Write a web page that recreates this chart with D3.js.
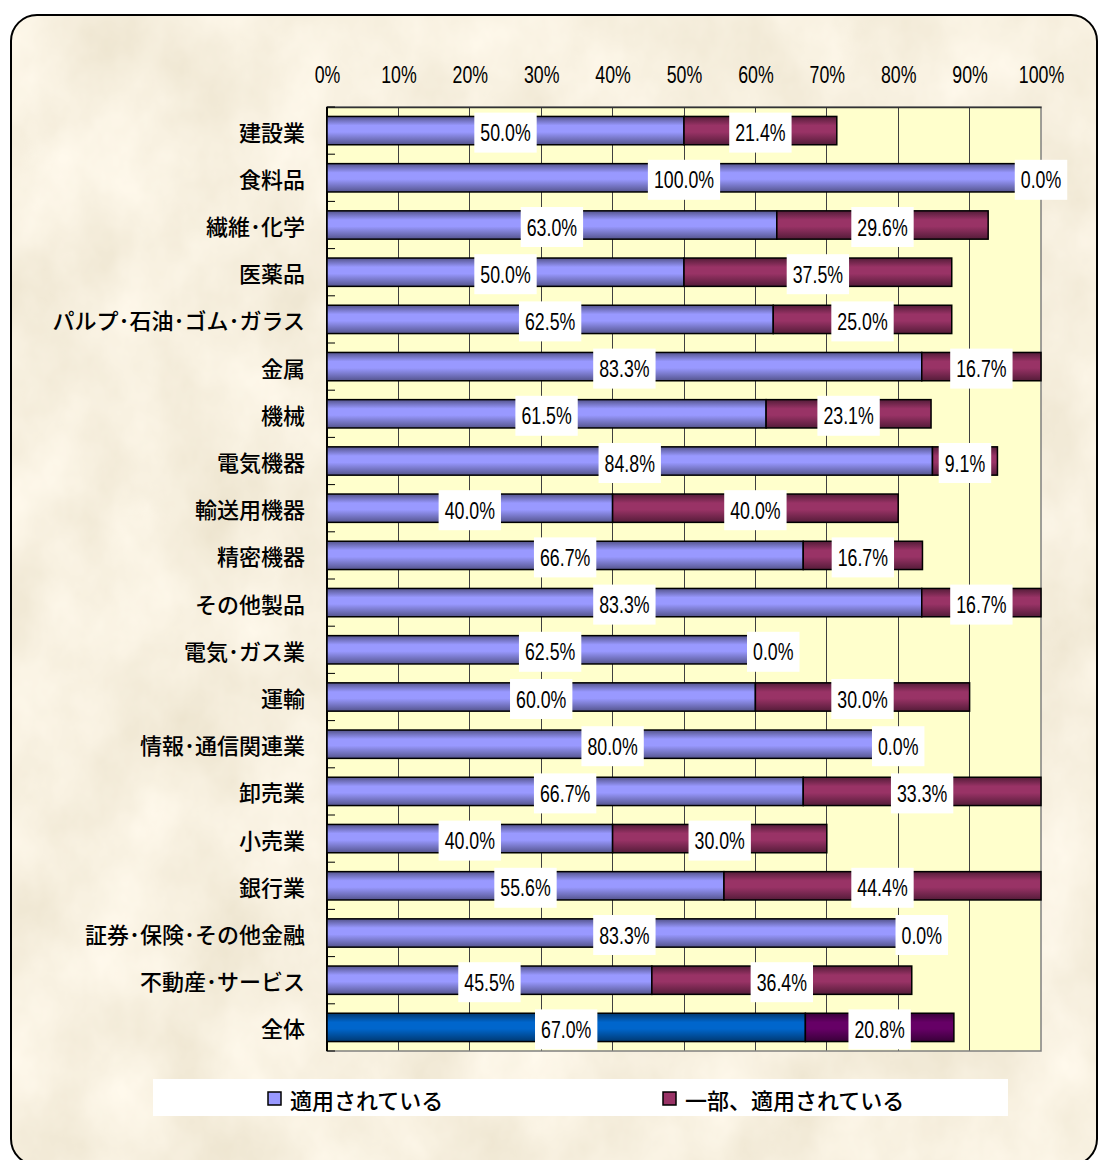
<!DOCTYPE html>
<html><head><meta charset="utf-8">
<script src="https://cdn.jsdelivr.net/npm/d3@7"></script>
<style>
body{margin:0;background:#fff;}
svg{display:block;}
.num{font-family:"Liberation Sans",Arial,sans-serif;}
.jp{font-family:"Noto Sans CJK JP","Noto Sans",sans-serif;font-weight:500;}
</style>
</head><body>
<svg id="c" width="1098" height="1160"></svg>
<script>
const categories = ["建設業","食料品","繊維･化学","医薬品","パルプ･石油･ゴム･ガラス","金属","機械","電気機器","輸送用機器","精密機器","その他製品","電気･ガス業","運輸","情報･通信関連業","卸売業","小売業","銀行業","証券･保険･その他金融","不動産･サービス","全体"];
const applied = [50.0,100.0,63.0,50.0,62.5,83.3,61.5,84.8,40.0,66.7,83.3,62.5,60.0,80.0,66.7,40.0,55.6,83.3,45.5,67.0];
const partial = [21.4,0.0,29.6,37.5,25.0,16.7,23.1,9.1,40.0,16.7,16.7,0.0,30.0,0.0,33.3,30.0,44.4,0.0,36.4,20.8];
const xTicks = [0,10,20,30,40,50,60,70,80,90,100];
const seriesNames = ["適用されている","一部、適用されている"];

const SX = 0.74; // horizontal condensing of numeric text
const NF = 24;   // numeric font size
const svg = d3.select("#c");
const defs = svg.append("defs");

// parchment background
const f = defs.append("filter").attr("id","paper").attr("x",0).attr("y",0).attr("width",1).attr("height",1);
f.append("feTurbulence").attr("type","fractalNoise").attr("baseFrequency","0.012 0.009").attr("numOctaves",5).attr("seed",11);
f.append("feColorMatrix").attr("type","matrix").attr("values",
  "0.2 0 0 0 0.83  0.22 0 0 0 0.76  0.28 0 0 0 0.60  0 0 0 0 1");
defs.append("clipPath").attr("id","frameClip").append("rect")
  .attr("x",11).attr("y",15).attr("width",1086).attr("height",1150).attr("rx",26);
svg.append("rect").attr("x",11).attr("y",15).attr("width",1086).attr("height",1150)
  .attr("clip-path","url(#frameClip)").attr("fill","#EEDEBE").attr("filter","url(#paper)");
svg.append("rect").attr("x",11).attr("y",15).attr("width",1086).attr("height",1150).attr("rx",26)
  .attr("fill","none").attr("stroke","#000").attr("stroke-width",2);

const L = 327, R = 1041, T = 107, B = 1051;
const x = d3.scaleLinear().domain([0,100]).range([L,R]);
const y = d3.scaleBand().domain(categories).range([T,B]).paddingInner(0.4).paddingOuter(0.2);

function grad(id, c){
  const g = defs.append("linearGradient").attr("id",id).attr("x1",0).attr("y1",0).attr("x2",0).attr("y2",1);
  const dk = d3.color(c).darker(1.7).formatHex();
  const dk2 = d3.color(c).darker(1.1).formatHex();
  g.append("stop").attr("offset","0").attr("stop-color",dk);
  g.append("stop").attr("offset","0.32").attr("stop-color",c);
  g.append("stop").attr("offset","0.55").attr("stop-color",c);
  g.append("stop").attr("offset","0.88").attr("stop-color",dk2);
  g.append("stop").attr("offset","1").attr("stop-color",dk);
}
const colA = "#9999FF", colP = "#993366", colAT = "#0066CC", colPT = "#660066";
grad("gA",colA); grad("gP",colP); grad("gAT",colAT); grad("gPT",colPT);

// plot area
svg.append("rect").attr("x",L).attr("y",T).attr("width",R-L).attr("height",B-T).attr("fill","#FFFFCC");
svg.append("g").selectAll("line").data(xTicks.slice(1,-1)).join("line")
  .attr("x1",d=>x(d)).attr("x2",d=>x(d)).attr("y1",T).attr("y2",B)
  .attr("stroke","#404040").attr("stroke-width",1).attr("shape-rendering","crispEdges");
svg.append("rect").attr("x",L).attr("y",T).attr("width",R-L).attr("height",B-T)
  .attr("fill","none").attr("stroke","#808080").attr("stroke-width",1.5);

// x axis on top
const xAxis = d3.axisTop(x).tickValues(xTicks).tickFormat(d=>d+"%").tickSize(0).tickPadding(0);
const gx = svg.append("g").attr("transform",`translate(0,${T})`).call(xAxis);
gx.select(".domain").attr("stroke","#333").attr("stroke-width",1.5);
gx.selectAll(".tick text").attr("class","num").attr("font-size",NF).attr("fill","#000")
  .attr("y",0).attr("dy",0).attr("transform",`translate(0,-33) scale(${SX},1)`)
  .attr("dominant-baseline","central");

// y axis line and inner ticks
svg.append("line").attr("x1",L).attr("x2",L).attr("y1",T).attr("y2",B).attr("stroke","#000").attr("stroke-width",2);
const step = y.step();
svg.append("g").selectAll("line").data(d3.range(categories.length+1)).join("line")
  .attr("x1",L).attr("x2",L+8).attr("y1",i=>T+i*step).attr("y2",i=>T+i*step)
  .attr("stroke","#000").attr("stroke-width",1);

// category labels
svg.append("g").selectAll("text").data(categories).join("text")
  .attr("class","jp").attr("x",305).attr("y",d=>y(d)+y.bandwidth()/2)
  .attr("text-anchor","end").attr("dominant-baseline","central")
  .attr("font-size",22).attr("fill","#000").text(d=>d);

const isTotal = (i)=> i===categories.length-1;
const rows = categories.map((c,i)=>({c,a:applied[i],p:partial[i],i}));

const bars = svg.append("g");
bars.selectAll("rect.a").data(rows).join("rect").attr("class","a")
  .attr("x",x(0)).attr("y",d=>y(d.c)).attr("width",d=>x(d.a)-x(0)).attr("height",y.bandwidth())
  .attr("fill",d=>isTotal(d.i)?"url(#gAT)":"url(#gA)").attr("stroke","#000").attr("stroke-width",1.5);
bars.selectAll("rect.p").data(rows.filter(d=>d.p>0)).join("rect").attr("class","p")
  .attr("x",d=>x(d.a)).attr("y",d=>y(d.c)).attr("width",d=>x(d.a+d.p)-x(d.a)).attr("height",y.bandwidth())
  .attr("fill",d=>isTotal(d.i)?"url(#gPT)":"url(#gP)").attr("stroke","#000").attr("stroke-width",1.5);

// data labels
const labels = [];
rows.forEach(d=>{
  labels.push({cx:(x(0)+x(d.a))/2, cy:y(d.c)+y.bandwidth()/2, t:d.a.toFixed(1)+"%"});
  labels.push({cx:(x(d.a)+x(d.a+d.p))/2, cy:y(d.c)+y.bandwidth()/2, t:d.p.toFixed(1)+"%"});
});
const lg = svg.append("g").selectAll("g").data(labels).join("g");
lg.append("rect").attr("fill","#fff");
lg.append("text").attr("class","num").attr("font-size",NF).attr("fill","#000")
  .attr("text-anchor","middle").attr("dominant-baseline","central")
  .attr("transform",d=>`translate(${d.cx},${d.cy+2}) scale(${SX},1)`).text(d=>d.t);
lg.each(function(d){
  const w = d3.select(this).select("text").node().getComputedTextLength()*SX;
  d3.select(this).select("rect").attr("x",d.cx-w/2-6).attr("y",d.cy-18).attr("width",w+12).attr("height",40);
});

// legend
svg.append("rect").attr("x",153).attr("y",1079).attr("width",855).attr("height",37).attr("fill","#fff");
const legX = [268, 663];
const legCols = [colA, colP];
const leg = svg.append("g").selectAll("g").data(seriesNames).join("g");
leg.append("rect").attr("x",(d,i)=>legX[i]).attr("y",1092).attr("width",13).attr("height",13)
  .attr("fill",(d,i)=>legCols[i]).attr("stroke","#000").attr("stroke-width",1.5);
leg.append("text").attr("class","jp").attr("x",(d,i)=>legX[i]+22).attr("y",1099)
  .attr("dominant-baseline","central").attr("font-size",22).attr("fill","#000").text(d=>d);
</script>
</body></html>
